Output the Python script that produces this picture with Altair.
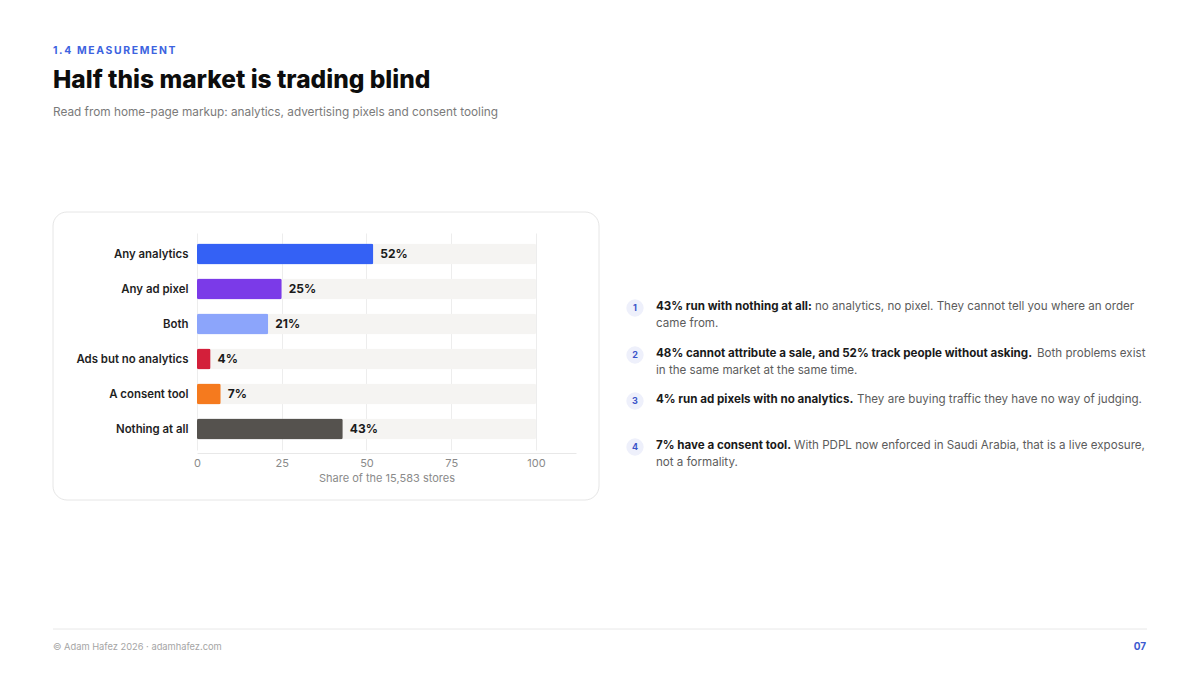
import altair as alt
import pandas as pd

# ---- data ----
categories = ["Any analytics", "Any ad pixel", "Both", "Ads but no analytics", "A consent tool", "Nothing at all"]
values = [52, 25, 21, 4, 7, 43]
bar_colors = ["#3461f5", "#7b3ae8", "#8ca5fb", "#d31f3a", "#f57a1e", "#55524e"]
track_max = [100, 100, 100, 100, 100, 100]
tick_values = [0, 25, 50, 75, 100]

kicker = "1.4 MEASUREMENT"
title = "Half this market is trading blind"
subtitle = "Read from home-page markup: analytics, advertising pixels and consent tooling"
axis_title = "Share of the 15,583 stores"
footer_left = "© Adam Hafez 2026 · adamhafez.com"
page_no = "07"

item_nums = ["1", "2", "3", "4"]
item_bold = [
    "43% run with nothing at all:",
    "48% cannot attribute a sale, and 52% track people without asking.",
    "4% run ad pixels with no analytics.",
    "7% have a consent tool.",
]
item_rest = [
    "no analytics, no pixel. They cannot tell you where an order",
    "Both problems exist",
    "They are buying traffic they have no way of judging.",
    "With PDPL now enforced in Saudi Arabia, that is a live exposure,",
]
item_line2 = ["came from.", "in the same market at the same time.", "", "not a formality."]

FONT = "Inter"

df = pd.DataFrame({
    "cat": categories,
    "val": values,
    "full": track_max,
    "label": [f"{v}%" for v in values],
})

W, H = 379, 217
y_scale = alt.Scale(domain=categories, paddingInner=0.4, paddingOuter=0.3)
x_scale = alt.Scale(domain=[0, 111.8], nice=False)

base = alt.Chart(df)

track = base.mark_bar(color="#f5f4f2", cornerRadius=2).encode(
    x=alt.X("full:Q", scale=x_scale,
            axis=alt.Axis(values=tick_values, title=axis_title, ticks=False,
                          labelColor="#8a8a8a", labelFontSize=11, labelPadding=4,
                          labelFlush=False,
                          titleColor="#8a8a8a", titleFontSize=11, titleFontWeight="normal",
                          titlePadding=4, domainColor="#e8e8e8", gridColor="#ededed",
                          offset=3, labelFont=FONT, titleFont=FONT)),
    y=alt.Y("cat:N", scale=y_scale, sort=categories,
            axis=alt.Axis(title=None, ticks=False, domain=False, grid=False,
                          labelColor="#1f1f1f", labelFontSize=11.4, labelFontWeight=600,
                          labelPadding=9, labelFont=FONT, labelOffset=1)),
)

bars = base.mark_bar(cornerRadius=2).encode(
    x=alt.X("val:Q", scale=x_scale),
    y=alt.Y("cat:N", scale=y_scale, sort=categories),
    color=alt.Color("cat:N", scale=alt.Scale(domain=categories, range=bar_colors), legend=None),
)

vlabels = base.mark_text(align="left", baseline="middle", dx=7, fontSize=12,
                         fontWeight="bold", color="#1a1a1a", font=FONT).encode(
    x=alt.X("val:Q", scale=x_scale),
    y=alt.Y("cat:N", scale=y_scale, sort=categories),
    text="label:N",
)

# origin of plot area is page (197, 233)
def txt(s, x, y, size, color, weight="normal", align="left", font=FONT):
    return alt.Chart(pd.DataFrame({"t": [s]})).mark_text(
        align=align, baseline="middle", fontSize=size, color=color,
        fontWeight=weight, font=font).encode(
        x=alt.value(x), y=alt.value(y), text="t:N")

layers = []

card = alt.Chart(pd.DataFrame({"k": [0]})).mark_rect(
    fill="white", fillOpacity=0, stroke="#e6e6e6", strokeWidth=1, cornerRadius=14).encode(
    x=alt.value(-144), x2=alt.value(402), y=alt.value(-21), y2=alt.value(267))
layers.append(card)

layers += [track, bars, vlabels]

spaced_kicker = "\u2009".join(list(kicker))
layers.append(txt(spaced_kicker, -144, -182, 10.4, "#3d63e0", "bold"))
layers.append(txt(title, -144, -152, 24.5, "#0d0d0d", 800))
layers.append(txt(subtitle, -144, -121, 11.8, "#7a7a7a"))

# right-hand notes
NOTE = 11.6
badge_y = [75, 122, 168, 214]
line1_y = [73.5, 120.5, 166.5, 212.5]
rest_x = [618, 840, 660, 597]
for i in range(4):
    layers.append(alt.Chart(pd.DataFrame({"n": [item_nums[i]]})).mark_point(
        filled=True, shape="circle", size=300, color="#eef0fb", opacity=1).encode(
        x=alt.value(438), y=alt.value(badge_y[i])))
    layers.append(txt(item_nums[i], 438, badge_y[i], 9, "#3b55c9", "bold", align="center"))
    layers.append(txt(item_bold[i], 459, line1_y[i], NOTE, "#1a1a1a", "bold"))
    layers.append(txt(item_rest[i], rest_x[i], line1_y[i], NOTE, "#5c5c5c"))
    if item_line2[i]:
        layers.append(txt(item_line2[i], 459, line1_y[i] + 17, NOTE, "#5c5c5c"))

# footer
footer_rule = alt.Chart(pd.DataFrame({"k": [0]})).mark_rule(color="#e8e8e8", strokeWidth=1).encode(
    x=alt.value(-144), x2=alt.value(950), y=alt.value(396))
layers.append(footer_rule)
layers.append(txt(footer_left, -144, 414, 9.3, "#a5a5a5"))
layers.append(txt(page_no, 949, 414, 10, "#3d5bd0", "bold", align="right"))

chart = alt.layer(*layers).properties(
    width=W, height=H,
    padding={"left": 189, "top": 225, "right": 616, "bottom": 217},
    autosize=alt.AutoSizeParams(type="none"),
    background="white",
).configure(font=FONT).configure_view(stroke=None, strokeWidth=0)

chart.save("out.html", embed_options={"renderer": "svg", "actions": False})
